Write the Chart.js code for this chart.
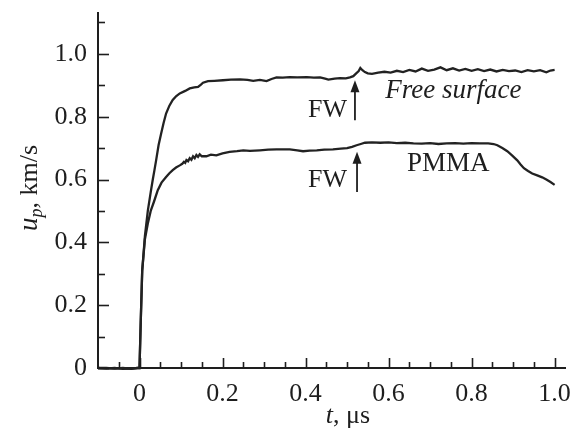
<!DOCTYPE html>
<html>
<head>
<meta charset="utf-8">
<script src="https://cdn.jsdelivr.net/npm/chart.js@4.4.1/dist/chart.umd.min.js"></script>
<style>
  html, body { margin: 0; padding: 0; background: #fff; }
</style>
</head>
<body>
<canvas id="velocityChart" width="577" height="436"></canvas>
<script>
// Particle velocity profiles: free surface and PMMA window
const tFree = [-0.1, -0.08, -0.06, -0.04, -0.02, -0.005, 0.0, 0.003, 0.0065, 0.013, 0.02, 0.027, 0.032, 0.036, 0.04, 0.046, 0.052, 0.058, 0.064, 0.072, 0.08, 0.088, 0.097, 0.11, 0.121, 0.132, 0.141, 0.148, 0.153, 0.165, 0.18, 0.201, 0.22, 0.242, 0.26, 0.274, 0.29, 0.306, 0.318, 0.33, 0.345, 0.362, 0.38, 0.403, 0.42, 0.435, 0.447, 0.455, 0.47, 0.483, 0.497, 0.507, 0.515, 0.522, 0.528, 0.532, 0.537, 0.543, 0.55, 0.56, 0.575, 0.59, 0.605, 0.62, 0.635, 0.65, 0.665, 0.68, 0.695, 0.71, 0.725, 0.74, 0.755, 0.77, 0.785, 0.8, 0.815, 0.83, 0.845, 0.86, 0.875, 0.89, 0.905, 0.92, 0.935, 0.95, 0.965, 0.98, 0.99, 1.0];
const vFree = [0, 0, -0.002, 0, -0.003, 0, 0, 0.15, 0.31, 0.42, 0.5, 0.56, 0.6, 0.63, 0.661, 0.71, 0.746, 0.78, 0.81, 0.835, 0.853, 0.865, 0.874, 0.882, 0.89, 0.893, 0.895, 0.902, 0.908, 0.913, 0.914, 0.916, 0.918, 0.919, 0.917, 0.914, 0.917, 0.913, 0.92, 0.925, 0.924, 0.926, 0.925, 0.926, 0.924, 0.925, 0.921, 0.918, 0.921, 0.923, 0.922, 0.925, 0.929, 0.938, 0.945, 0.955, 0.948, 0.942, 0.938, 0.936, 0.94, 0.943, 0.94, 0.946, 0.942, 0.949, 0.944, 0.953, 0.946, 0.95, 0.957, 0.948, 0.954, 0.947, 0.952, 0.946, 0.951, 0.945, 0.95, 0.944, 0.949, 0.945, 0.947, 0.942, 0.948, 0.944, 0.948, 0.941, 0.947, 0.949];

const tPmma = [-0.1, -0.08, -0.06, -0.04, -0.02, -0.005, 0.0, 0.003, 0.0065, 0.013, 0.02, 0.027, 0.035, 0.044, 0.053, 0.064, 0.072, 0.08, 0.088, 0.097, 0.103, 0.107, 0.11, 0.113, 0.117, 0.121, 0.125, 0.129, 0.133, 0.137, 0.141, 0.145, 0.15, 0.161, 0.172, 0.185, 0.2, 0.217, 0.235, 0.25, 0.266, 0.29, 0.31, 0.33, 0.362, 0.38, 0.394, 0.41, 0.427, 0.445, 0.466, 0.485, 0.5, 0.512, 0.523, 0.533, 0.543, 0.56, 0.58, 0.6, 0.62, 0.64, 0.66, 0.68, 0.7, 0.72, 0.74, 0.76, 0.78, 0.8, 0.82, 0.84, 0.853, 0.862, 0.874, 0.886, 0.898, 0.91, 0.918, 0.926, 0.936, 0.946, 0.958, 0.97, 0.98, 0.99, 1.0];
const vPmma = [0, -0.002, 0, -0.003, -0.002, 0, 0, 0.15, 0.31, 0.41, 0.46, 0.5, 0.53, 0.566, 0.59, 0.608, 0.62, 0.63, 0.638, 0.645, 0.65, 0.656, 0.653, 0.662, 0.658, 0.668, 0.663, 0.674, 0.668, 0.678, 0.672, 0.68, 0.674, 0.674, 0.679, 0.677, 0.683, 0.688, 0.69, 0.693, 0.691, 0.693, 0.695, 0.696, 0.696, 0.693, 0.69, 0.692, 0.693, 0.695, 0.696, 0.698, 0.7, 0.704, 0.709, 0.713, 0.717, 0.718, 0.717, 0.718, 0.716, 0.717, 0.715, 0.714, 0.716, 0.713, 0.715, 0.716, 0.714, 0.716, 0.715, 0.715, 0.713, 0.709, 0.7, 0.69, 0.676, 0.661, 0.648, 0.636, 0.627, 0.619, 0.613, 0.607, 0.6, 0.592, 0.583];

const xLabelTicks = [0, 0.2, 0.4, 0.6, 0.8, 1.0];
const xTickMarks = [-0.05, 0, 0.05, 0.1, 0.15, 0.2, 0.25, 0.3, 0.35, 0.4, 0.45, 0.5, 0.55, 0.6, 0.65, 0.7, 0.75, 0.8, 0.85, 0.9, 0.95, 1.0];
const yLabelTicks = [0, 0.2, 0.4, 0.6, 0.8, 1.0];
const yTickMarks = [0, 0.1, 0.2, 0.3, 0.4, 0.5, 0.6, 0.7, 0.8, 0.9, 1.0, 1.1];

// text labels and FW arrows, placed in data units
const labels = [
    { text: 'FW', t: 0.453, v: 0.821, italic: false, size: 26 },
    { text: 'FW', t: 0.453, v: 0.598, italic: false, size: 26 },
    { text: 'Free surface', t: 0.756, v: 0.881, italic: true, size: 27 },
    { text: 'PMMA', t: 0.744, v: 0.649, italic: false, size: 27 }
];
const arrows = [
    { t: 0.519, from: 0.789, to: 0.916 },
    { t: 0.524, from: 0.56, to: 0.688 }
];

const FONT = "'Liberation Serif', 'DejaVu Serif', serif";
const INK = '#1e1e1e';
const LINE = '#222';

function toPoints(ts, vs) {
    return ts.map((t, i) => ({ x: t, y: vs[i] }));
}

function fmt(v) {
    return v === 0 ? '0' : v.toFixed(1);
}

function drawRuns(ctx, runs, cx, cy) {
    let total = 0;
    runs.forEach(r => { ctx.font = r.font; total += ctx.measureText(r.text).width; });
    let x = cx - total / 2;
    runs.forEach(r => {
        ctx.font = r.font;
        ctx.fillText(r.text, x, cy + (r.dy || 0));
        x += ctx.measureText(r.text).width;
    });
}

const overlayPlugin = {
    id: 'overlay',
    afterDraw(chart) {
        const ctx = chart.ctx;
        const xs = chart.scales.x;
        const ys = chart.scales.y;
        const area = chart.chartArea;
        ctx.save();

        // inward tick marks
        ctx.strokeStyle = INK;
        ctx.lineWidth = 1.6;
        xTickMarks.forEach(v => {
            const px = Math.round(xs.getPixelForValue(v)) + 0.5;
            const major = Math.abs(v * 5 - Math.round(v * 5)) < 1e-6;
            const len = major ? 10 : 6;
            ctx.beginPath();
            ctx.moveTo(px, area.bottom);
            ctx.lineTo(px, area.bottom - len);
            ctx.stroke();
        });
        yTickMarks.forEach(v => {
            const py = Math.round(ys.getPixelForValue(v)) + 0.5;
            const major = Math.abs(v * 5 - Math.round(v * 5)) < 1e-6;
            const len = major ? 11 : 7;
            ctx.beginPath();
            ctx.moveTo(area.left, py);
            ctx.lineTo(area.left + len, py);
            ctx.stroke();
        });

        // annotations
        ctx.fillStyle = INK;
        ctx.textAlign = 'left';
        ctx.textBaseline = 'middle';
        labels.forEach(l => {
            const font = (l.italic ? 'italic ' : '') + l.size + 'px ' + FONT;
            drawRuns(ctx, [{ text: l.text, font: font }], xs.getPixelForValue(l.t), ys.getPixelForValue(l.v));
        });
        arrows.forEach(a => {
            const px = xs.getPixelForValue(a.t);
            const y0 = ys.getPixelForValue(a.from);
            const y1 = ys.getPixelForValue(a.to);
            ctx.lineWidth = 1.8;
            ctx.beginPath();
            ctx.moveTo(px, y0);
            ctx.lineTo(px, y1 + 8);
            ctx.stroke();
            ctx.beginPath();
            ctx.moveTo(px, y1);
            ctx.lineTo(px - 4.5, y1 + 12);
            ctx.lineTo(px + 4.5, y1 + 12);
            ctx.closePath();
            ctx.fill();
        });

        // axis titles
        drawRuns(ctx, [
            { text: 't', font: 'italic 26px ' + FONT },
            { text: ', \u03bcs', font: '26px ' + FONT }
        ], 348, 416);

        ctx.translate(30, 188);
        ctx.rotate(-Math.PI / 2);
        drawRuns(ctx, [
            { text: 'u', font: 'italic 27px ' + FONT },
            { text: 'p', font: 'italic 18px ' + FONT, dy: 7 },
            { text: ', km/s', font: '26px ' + FONT }
        ], 0, 0);

        ctx.restore();
    }
};

function initializeChart() {
    const ctx = document.getElementById('velocityChart');
    const lineStyle = {
        borderColor: LINE,
        borderWidth: 2.3,
        pointRadius: 0,
        tension: 0,
        fill: false,
        clip: false
    };

    new Chart(ctx, {
        type: 'line',
        data: {
            datasets: [
                Object.assign({ label: 'Free surface', data: toPoints(tFree, vFree) }, lineStyle),
                Object.assign({ label: 'PMMA', data: toPoints(tPmma, vPmma) }, lineStyle)
            ]
        },
        options: {
            responsive: false,
            animation: false,
            layout: { padding: { top: 13, right: 12, left: 0, bottom: 0 } },
            plugins: {
                legend: { display: false },
                tooltip: { enabled: false }
            },
            scales: {
                x: {
                    type: 'linear',
                    min: -0.1,
                    max: 1.025,
                    afterBuildTicks: s => { s.ticks = xLabelTicks.map(v => ({ value: v })); },
                    afterFit: s => { s.height = 68; s.paddingLeft = 0; s.paddingRight = 0; },
                    grid: { display: false, drawTicks: false },
                    border: { display: true, color: INK, width: 2 },
                    ticks: {
                        color: INK,
                        padding: 11,
                        maxRotation: 0,
                        font: { family: FONT, size: 26 },
                        callback: v => fmt(v)
                    }
                },
                y: {
                    type: 'linear',
                    min: 0,
                    max: 1.13,
                    afterBuildTicks: s => { s.ticks = yLabelTicks.map(v => ({ value: v })); },
                    afterFit: s => { s.width = 98; s.paddingTop = 0; s.paddingBottom = 0; },
                    grid: { display: false, drawTicks: false },
                    border: { display: true, color: INK, width: 2 },
                    ticks: {
                        color: INK,
                        padding: 11,
                        font: { family: FONT, size: 26 },
                        callback: v => fmt(v)
                    }
                }
            }
        },
        plugins: [overlayPlugin]
    });
}

document.addEventListener('DOMContentLoaded', initializeChart);
</script>
</body>
</html>
